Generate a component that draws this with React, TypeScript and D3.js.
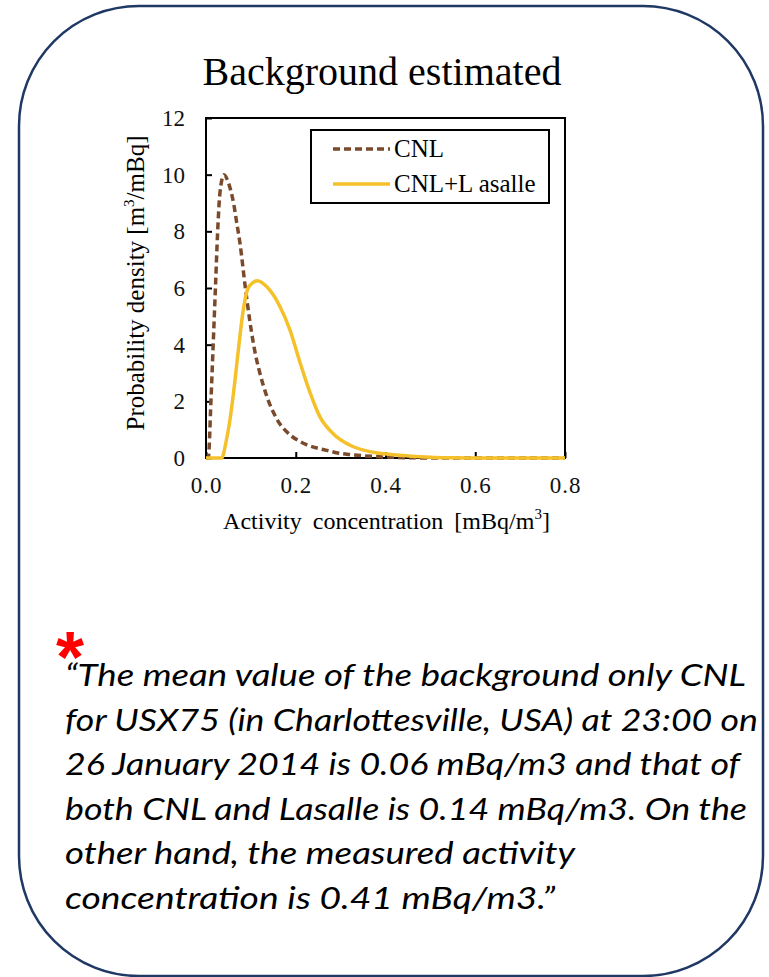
import React, { useRef, useEffect } from 'react';
import * as d3 from 'd3';

// --- Data ---
const cnlX = [0, 0.005, 0.011, 0.016, 0.021, 0.026, 0.031, 0.040, 0.048, 0.055, 0.062, 0.068, 0.076, 0.087, 0.098, 0.105, 0.113, 0.120, 0.135, 0.157, 0.187, 0.210, 0.224, 0.250, 0.269, 0.300, 0.321, 0.350, 0.380, 0.400, 0.450, 0.500, 0.600, 0.700, 0.800];
const cnlY = [0, 0, 2.0, 4.0, 6.0, 8.0, 9.35, 10.0, 9.8, 9.45, 8.95, 8.35, 7.55, 6.1, 4.8, 4.1, 3.45, 3.0, 2.2, 1.4, 0.82, 0.58, 0.47, 0.34, 0.27, 0.16, 0.12, 0.08, 0.05, 0.035, 0.01, 0, 0, 0, 0];

const lasX = [0, 0.035, 0.045, 0.052, 0.059, 0.0735, 0.081, 0.094, 0.104, 0.114, 0.135, 0.165, 0.187, 0.209, 0.232, 0.254, 0.284, 0.321, 0.373, 0.432, 0.500, 0.550, 0.600, 0.700, 0.800];
const lasY = [0, 0, 0.6, 1.2, 2.0, 4.0, 5.0, 6.0, 6.18, 6.26, 6.05, 5.34, 4.52, 3.4, 2.3, 1.45, 0.85, 0.45, 0.2, 0.1, 0.03, 0.01, 0, 0, 0];

const xTicks = [0, 0.2, 0.4, 0.6, 0.8];
const yTicks = [0, 2, 4, 6, 8, 10, 12];

const seriesNames = ['CNL', 'CNL+L asalle'];

const noteLines = [
  '\u201CThe mean value of the background only CNL',
  'for USX75 (in Charlottesville, USA) at 23:00 on',
  '26 January 2014 is 0.06 mBq/m3 and that of',
  'both CNL and Lasalle is 0.14 mBq/m3. On the',
  'other hand, the measured activity',
  'concentration is 0.41 mBq/m3.\u201D',
];

// layout: rendered width of each note line
const noteWidths = [681, 693, 675, 682, 510, 490];

const SERIF = '"Liberation Serif", "Times New Roman", serif';
const BROWN = '#7a4a2c';
const GOLD = '#f5c12b';

export default function App() {
  const svgRef = useRef<SVGSVGElement>(null);

  useEffect(() => {
    const svg = d3.select(svgRef.current);
    svg.selectAll('*').remove();

    // rounded outer card
    svg.append('rect')
      .attr('x', 19).attr('y', 6)
      .attr('width', 744).attr('height', 970)
      .attr('rx', 120).attr('ry', 120)
      .attr('fill', '#fff')
      .attr('stroke', '#1f3864')
      .attr('stroke-width', 2.5);

    svg.append('text')
      .attr('x', 382).attr('y', 85)
      .attr('text-anchor', 'middle')
      .style('font-family', SERIF)
      .style('font-size', '40px')
      .text('Background estimated');

    // --- plot area ---
    const left = 206, right = 565, top = 118, bottom = 458;
    const x = d3.scaleLinear().domain([0, 0.8]).range([left, right]);
    const y = d3.scaleLinear().domain([0, 12]).range([bottom, top]);

    const yAxis = svg.append('g')
      .attr('transform', `translate(${left},0)`)
      .call(d3.axisLeft(y).tickValues(yTicks).tickFormat(d3.format('d')).tickSizeInner(-6).tickSizeOuter(0).tickPadding(21));
    yAxis.select('.domain').remove();

    const xAxis = svg.append('g')
      .attr('transform', `translate(0,${bottom})`)
      .call(d3.axisBottom(x).tickValues(xTicks).tickFormat(d3.format('.1f')).tickSizeInner(-6).tickSizeOuter(0).tickPadding(19));
    xAxis.select('.domain').remove();

    svg.selectAll('.tick line').attr('stroke', '#000').attr('stroke-width', 2);
    svg.selectAll('.tick text')
      .attr('fill', '#111')
      .style('font-family', SERIF)
      .style('font-size', '23px');
    xAxis.selectAll('.tick text').style('letter-spacing', '1px');

    // frame
    svg.append('rect')
      .attr('x', left).attr('y', top)
      .attr('width', right - left).attr('height', bottom - top)
      .attr('fill', 'none')
      .attr('stroke', '#000')
      .attr('stroke-width', 2);

    // axis titles
    const xt = svg.append('text')
      .attr('x', (left + right) / 2 + 1).attr('y', 529)
      .attr('text-anchor', 'middle')
      .style('font-family', SERIF)
      .style('font-size', '24px')
      .style('word-spacing', '5px');
    xt.append('tspan').text('Activity concentration [mBq/m');
    xt.append('tspan').attr('dy', -10).style('font-size', '15px').text('3');
    xt.append('tspan').attr('dy', 10).text(']');

    const yt = svg.append('text')
      .attr('transform', `translate(144,${(top + bottom) / 2 - 5}) rotate(-90)`)
      .attr('text-anchor', 'middle')
      .style('font-family', SERIF)
      .style('font-size', '25px');
    yt.append('tspan').text('Probability density [m');
    yt.append('tspan').attr('dy', -10).style('font-size', '15px').text('3');
    yt.append('tspan').attr('dy', 10).text('/mBq]');

    // --- curves ---
    const cnlLine = d3.line<number>()
      .x((d, i) => x(cnlX[i]))
      .y(d => y(d))
      .curve(d3.curveMonotoneX);
    const lasLine = d3.line<number>()
      .x((d, i) => x(lasX[i]))
      .y(d => y(d))
      .curve(d3.curveMonotoneX);

    svg.append('path')
      .datum(cnlY)
      .attr('fill', 'none')
      .attr('stroke', BROWN)
      .attr('stroke-width', 3.5)
      .attr('stroke-dasharray', '7,4')
      .attr('d', cnlLine);

    svg.append('path')
      .datum(lasY)
      .attr('fill', 'none')
      .attr('stroke', GOLD)
      .attr('stroke-width', 3.5)
      .attr('d', lasLine);

    // --- legend ---
    svg.append('rect')
      .attr('x', 311).attr('y', 130)
      .attr('width', 238).attr('height', 73)
      .attr('fill', '#fff')
      .attr('stroke', '#000')
      .attr('stroke-width', 2);

    const legendRows = [
      { name: seriesNames[0], color: BROWN, dash: '7,4', cy: 149 },
      { name: seriesNames[1], color: GOLD, dash: null, cy: 184 },
    ];
    legendRows.forEach(r => {
      svg.append('line')
        .attr('x1', 333).attr('x2', 390)
        .attr('y1', r.cy).attr('y2', r.cy)
        .attr('stroke', r.color)
        .attr('stroke-width', 3.5)
        .attr('stroke-dasharray', r.dash);
      svg.append('text')
        .attr('x', 394).attr('y', r.cy + 8)
        .style('font-family', SERIF)
        .style('font-size', '25px')
        .text(r.name);
    });

    // --- note ---
    svg.append('text')
      .attr('x', 70).attr('y', 682)
      .attr('text-anchor', 'middle')
      .attr('fill', '#ff0000')
      .style('font-family', '"Liberation Sans", Arial, sans-serif')
      .style('font-weight', 'bold')
      .style('font-size', '72px')
      .text('*');

    noteLines.forEach((line, i) => {
      svg.append('text')
        .attr('x', 65).attr('y', 686 + i * 44.6)
        .attr('textLength', noteWidths[i])
        .attr('lengthAdjust', 'spacingAndGlyphs')
        .style('font-family', 'Lato, "Open Sans", sans-serif')
        .style('font-style', 'italic')
        .style('font-size', '30px')
        .attr('fill', '#000')
        .text(line);
    });
  }, []);

  return (
    <svg
      ref={svgRef}
      width={769}
      height={977}
      style={{ position: 'absolute', left: 0, top: 0, background: '#fff' }}
    />
  );
}
